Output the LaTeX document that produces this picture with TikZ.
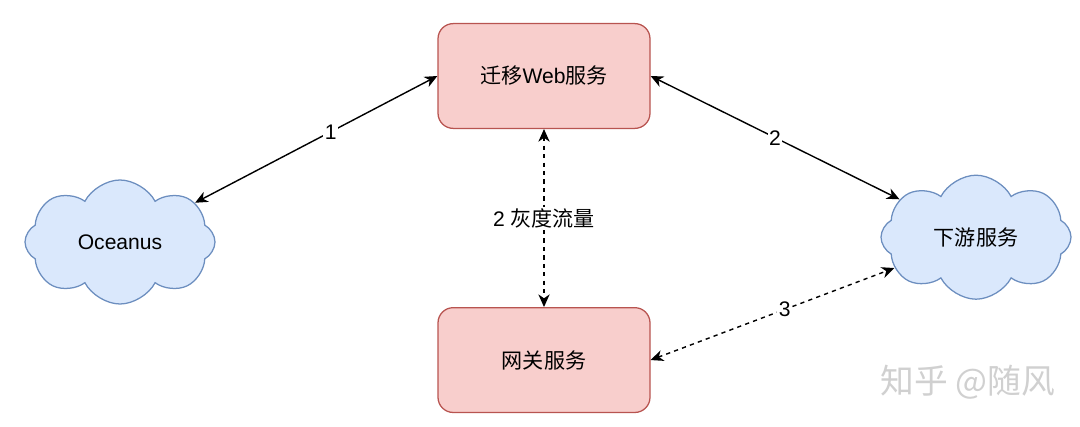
\documentclass[tikz,border=0pt]{standalone}
\usepackage{fontspec}
\setmainfont{Liberation Sans}
\newfontfamily\cjk{Noto Sans CJK SC}
\usetikzlibrary{shapes.symbols, arrows.meta, positioning}
\definecolor{svcfill}{HTML}{F8CECC}
\definecolor{svcdraw}{HTML}{B85450}
\definecolor{cloudfill}{HTML}{DAE8FC}
\definecolor{clouddraw}{HTML}{6C8EBF}
\definecolor{markgray}{RGB}{208, 208, 208}
\tikzset{
    font=\fontsize{15}{18}\selectfont,
    service/.style={rectangle, rounded corners=0.38cm, draw=svcdraw, fill=svcfill, line width=0.9pt, align=center, minimum width=5.3cm, minimum height=2.62cm},
    cloudy/.style={cloud, cloud puffs=8, cloud puff arc=125, cloud ignores aspect, draw=clouddraw, fill=cloudfill, line width=0.9pt, inner sep=0pt, minimum width=4.75cm, minimum height=3.1cm},
    arrow/.style={{Stealth[length=9pt, width=8pt, inset=2.8pt]}-{Stealth[length=9pt, width=8pt, inset=2.8pt]}, line width=1pt, color=black},
    dasharrow/.style={arrow, dash pattern=on 3pt off 3pt},
    label_text/.style={fill=white, inner sep=1pt},
    watermark/.style={font=\cjk\fontsize{24}{28}\selectfont, color=markgray}
}

\begin{document}
\begin{tikzpicture}

    \useasboundingbox (0,0) rectangle (27,10.65);

    % Services
    \node (web) [service] at (13.6,8.75) {{\cjk 迁移}Web{\cjk 服务}};
    \node (gw) [service, below=4.45cm of web] {\cjk 网关服务};

    % Clouds
    \node (oceanus) [cloudy] at (3.0,4.6) {Oceanus};
    \node (down) [cloudy] at (24.4,4.72) {\cjk 下游服务};

    % Paths
    \draw [arrow] (oceanus) -- (web.west) node[pos=0.56, label_text] {1};
    \draw [arrow] (web.east) -- (down) node[midway, label_text] {2};
    \draw [dasharrow] (web.south) -- (gw.north) node[midway, label_text] {2 {\cjk 灰度流量}};
    \draw [dasharrow] (gw.east) -- (down) node[pos=0.55, label_text] {3};

    % Watermark
    \node (mark) [watermark] at (24.2,1.1) {知乎 @随风};

\end{tikzpicture}
\end{document}
